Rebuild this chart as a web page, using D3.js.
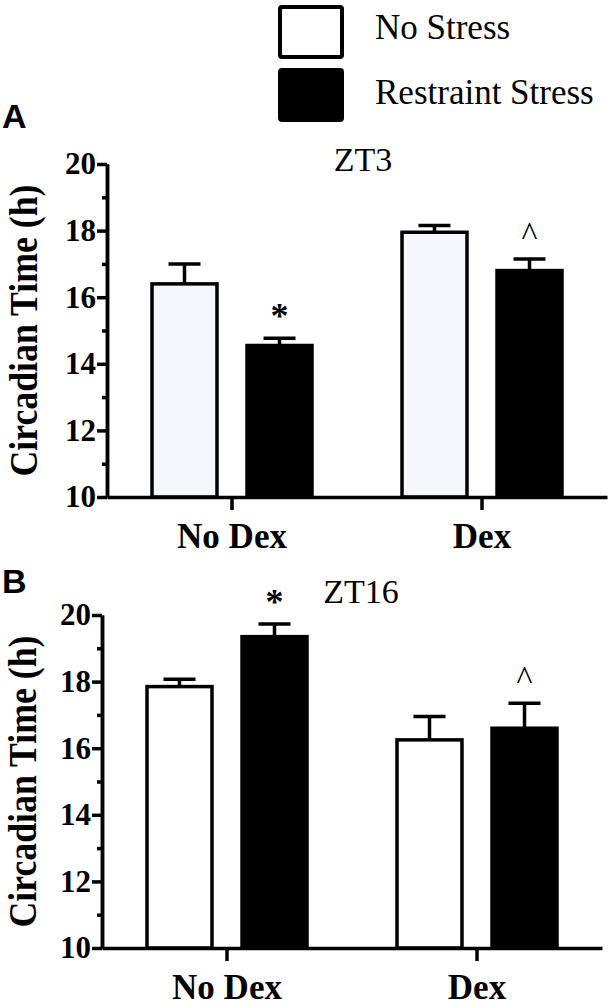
<!DOCTYPE html>
<meta charset="utf-8">
<style>
  body { margin: 0; background: #fff; }
  .axis path, .axis line { stroke: #000; stroke-width: 3.5; }
  .axis text { font-family: "Liberation Serif", "Times New Roman", serif; font-weight: bold; fill: #000; }
  .serif { font-family: "Liberation Serif", "Times New Roman", serif; fill: #000; }
  .panel-letter { font-family: "Liberation Sans", Arial, sans-serif; font-weight: bold; fill: #000; }
</style>
<svg width="614" height="1007"></svg>
<script src="https://d3js.org/d3.v7.min.js"></script>
<script>

// data
var groups = ["No Dex", "Dex"];
var conditions = ["No Stress", "Restraint Stress"];
var yTicks = [10, 12, 14, 16, 18, 20];
var yMinorTicks = [11, 13, 15, 17, 19];

var zt3NoStress = [16.4, 17.95];
var zt3NoStressSem = [0.6, 0.2];
var zt3Stress = [14.55, 16.8];
var zt3StressSem = [0.22, 0.35];
var zt3Marks = ["*", "^"];

var zt16NoStress = [17.85, 16.25];
var zt16NoStressSem = [0.22, 0.7];
var zt16Stress = [19.35, 16.6];
var zt16StressSem = [0.38, 0.75];
var zt16Marks = ["*", "^"];

var svg = d3.select("svg");

var plotW = 500, plotH = 333;

// legend
var legend = svg.append("g");
legend.selectAll("rect")
    .data(conditions)
    .enter().append("rect")
    .attr("x", 280)
    .attr("y", function(d, i) { return 7 + i * 63; })
    .attr("width", 62)
    .attr("height", 50)
    .attr("rx", 2)
    .attr("fill", function(d, i) { return i == 0 ? "#fff" : "#000"; })
    .attr("stroke", "#000")
    .attr("stroke-width", 4);
legend.selectAll("text")
    .data(conditions)
    .enter().append("text")
    .attr("class", "serif")
    .attr("x", 375)
    .attr("y", function(d, i) { return 39 + i * 65; })
    .style("font-size", "35px")
    .text(function(d) { return d; });

function drawPanel(opt) {
  var g = svg.append("g")
      .attr("transform", "translate(" + opt.left + "," + opt.top + ")");

  var x0 = d3.scaleBand().domain(groups).range([0, plotW]).padding(0);
  var x1 = d3.scaleBand().domain(conditions).range([-80, 80]).paddingInner(0.316).paddingOuter(0);
  var y = d3.scaleLinear().domain([10, 20]).range([plotH, 0]);

  var rows = [];
  groups.forEach(function(grp, gi) {
    rows.push({group: grp, cond: conditions[0], mean: opt.noStress[gi], sem: opt.noStressSem[gi], mark: ""});
    rows.push({group: grp, cond: conditions[1], mean: opt.stress[gi], sem: opt.stressSem[gi], mark: opt.marks[gi]});
  });
  function bx(d) { return x0(d.group) + x0.bandwidth() / 2 + x1(d.cond); }
  function cx(d) { return bx(d) + x1.bandwidth() / 2; }

  // error bars (drawn first so the bar covers the lower half)
  g.selectAll(".err")
      .data(rows)
      .enter().append("line")
      .attr("x1", cx).attr("x2", cx)
      .attr("y1", function(d) { return y(d.mean); })
      .attr("y2", function(d) { return y(d.mean + d.sem); })
      .attr("stroke", "#000").attr("stroke-width", 3.5);
  g.selectAll(".cap")
      .data(rows)
      .enter().append("line")
      .attr("x1", function(d) { return cx(d) - 16; })
      .attr("x2", function(d) { return cx(d) + 16; })
      .attr("y1", function(d) { return y(d.mean + d.sem); })
      .attr("y2", function(d) { return y(d.mean + d.sem); })
      .attr("stroke", "#000").attr("stroke-width", 3.5);

  g.selectAll(".bar")
      .data(rows)
      .enter().append("rect")
      .attr("x", bx)
      .attr("y", function(d) { return y(d.mean); })
      .attr("width", x1.bandwidth())
      .attr("height", function(d) { return y(10) - y(d.mean); })
      .attr("fill", function(d) { return d.cond == conditions[0] ? opt.lightFill : "#000"; })
      .attr("stroke", "#000")
      .attr("stroke-width", 3.5);

  // significance marks
  g.selectAll(".mark")
      .data(rows.filter(function(d) { return d.mark; }))
      .enter().append("text")
      .attr("class", "serif")
      .attr("x", cx)
      .attr("y", function(d) { return y(d.mean + d.sem) - (d.mark == "*" ? 10 : 14); })
      .attr("text-anchor", "middle")
      .style("font-size", function(d) { return d.mark == "*" ? "36px" : "34px"; })
      .style("font-weight", function(d) { return d.mark == "*" ? "bold" : "normal"; })
      .text(function(d) { return d.mark; });

  // axes
  g.append("g")
      .attr("class", "axis")
      .call(d3.axisLeft(y).tickValues(yMinorTicks).tickSize(5).tickSizeOuter(0).tickFormat(""));
  var yAxis = g.append("g")
      .attr("class", "axis")
      .call(d3.axisLeft(y).tickValues(yTicks).tickSize(10).tickSizeOuter(0).tickPadding(1).tickFormat(d3.format("d")));
  yAxis.attr("font-size", 31).attr("font-family", "Liberation Serif, serif");
  yAxis.selectAll(".tick text")
      .attr("font-size", 31)
      .style("font-size", "31px")
      .style("font-family", "'Liberation Serif', serif")
      .style("font-weight", "bold");
  g.append("g")
      .attr("class", "axis")
      .attr("transform", "translate(0," + plotH + ")")
      .call(d3.axisBottom(x0).tickSize(13).tickSizeOuter(0).tickPadding(13))
      .selectAll("text").style("font-size", "35px");

  g.append("text")
      .attr("class", "serif")
      .attr("transform", "translate(" + opt.yLabelX + "," + (plotH / 2) + ") rotate(-90)")
      .attr("text-anchor", "middle")
      .attr("textLength", 292)
      .attr("lengthAdjust", "spacingAndGlyphs")
      .style("font-size", "40px")
      .style("font-weight", "bold")
      .text("Circadian Time (h)");

  g.append("text")
      .attr("class", "serif")
      .attr("x", opt.titleX)
      .attr("y", opt.titleY)
      .attr("text-anchor", "middle")
      .style("font-size", "34px")
      .text(opt.title);

  svg.append("text")
      .attr("class", "panel-letter")
      .attr("x", 2)
      .attr("y", opt.letterY)
      .style("font-size", "34px")
      .text(opt.letter);
}

drawPanel({
  left: 107, top: 164, title: "ZT3", titleX: 256, titleY: 7,
  letter: "A", letterY: 128, yLabelX: -70, lightFill: "#f6f7fd",
  noStress: zt3NoStress, noStressSem: zt3NoStressSem,
  stress: zt3Stress, stressSem: zt3StressSem, marks: zt3Marks
});

drawPanel({
  left: 102, top: 615, title: "ZT16", titleX: 259, titleY: -12,
  letter: "B", letterY: 593, yLabelX: -66, lightFill: "#fff",
  noStress: zt16NoStress, noStressSem: zt16NoStressSem,
  stress: zt16Stress, stressSem: zt16StressSem, marks: zt16Marks
});

</script>
